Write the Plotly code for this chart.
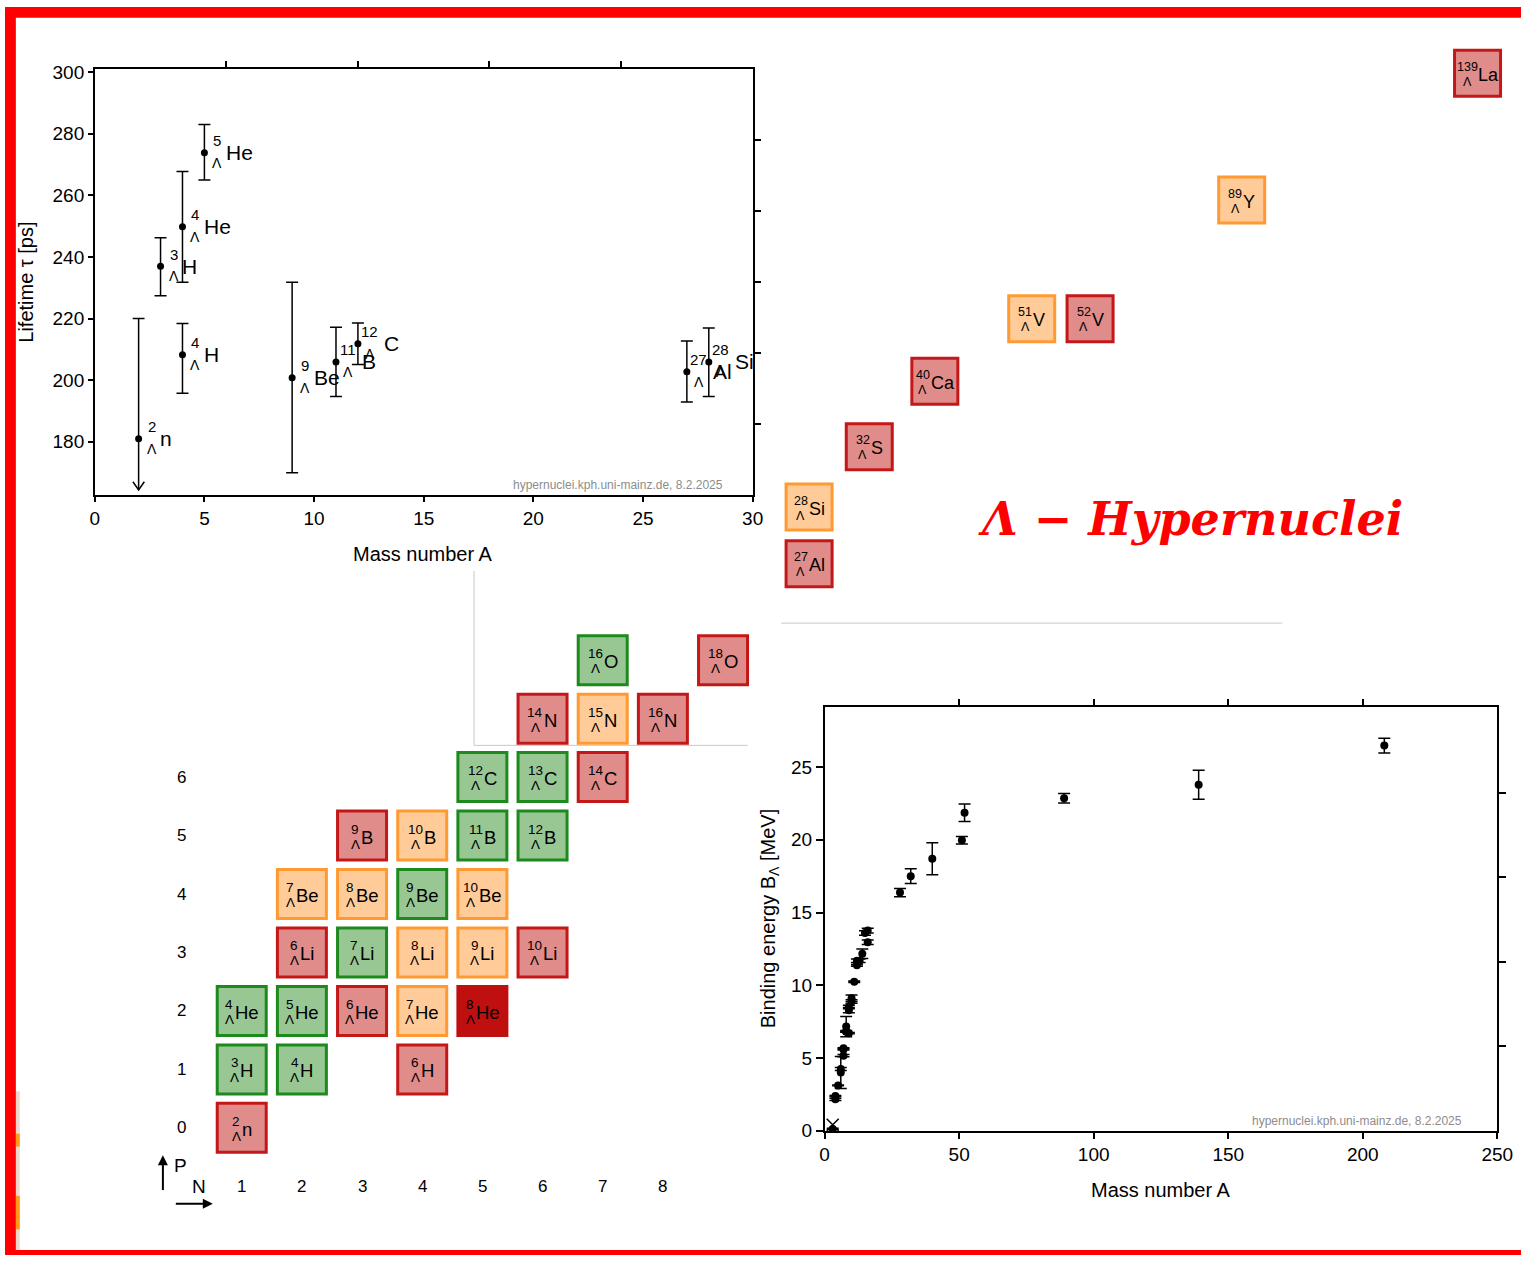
import plotly.graph_objects as go

# ---------------- data ----------------
# Lambda-hypernuclear lifetimes (ps) against mass number A
life_A = [2, 3, 4, 4, 5, 9, 11, 12, 27, 28]
life_sym = ["n", "H", "H", "He", "He", "Be", "B", "C", "Al", "Si"]
life_tau = [181.0, 237.0, 208.2, 249.8, 273.8, 200.8, 205.9, 211.8, 202.7, 205.9]
life_err_plus = [39.0, 9.2, 10.2, 17.9, 9.2, 31.0, 11.3, 6.7, 10.0, 11.0]
life_err_minus = [None, 9.6, 12.5, 18.0, 8.8, 30.9, 11.2, 6.7, 9.8, 11.2]  # None = open towards lower values

# Lambda binding energies B_Lambda (MeV) against mass number A
be_A = [3, 4, 4, 5, 6, 6, 7, 7, 7, 8, 8, 8, 9, 9, 9, 10, 10, 11, 12, 12, 13, 14, 15, 16, 16,
        28, 32, 40, 51, 52, 89, 139, 208]
be_B = [0.13, 2.16, 2.39, 3.12, 4.00, 4.25, 5.16, 5.58, 5.68, 6.80, 6.84, 7.16, 6.71, 8.29, 8.50,
        8.89, 9.11, 10.24, 11.37, 11.69, 11.69, 12.17, 13.59, 12.96, 13.76,
        16.37, 17.50, 18.70, 19.97, 21.86, 22.85, 23.78, 26.47]
be_err = [0.05, 0.08, 0.03, 0.02, 1.10, 0.10, 0.08, 0.03, 0.03, 0.03, 0.05, 0.70, 0.04, 0.18, 0.12,
          0.12, 0.22, 0.05, 0.06, 0.12, 0.12, 0.33, 0.15, 0.15, 0.16,
          0.28, 0.50, 1.10, 0.26, 0.60, 0.33, 1.00, 0.50]
be_cross_A = [3]
be_cross_B = [0.41]

# chart of Lambda hypernuclides: symbol, mass number A, proton number Z, class
light_sym = ["n", "H", "H", "H", "He", "He", "He", "He", "He",
             "Li", "Li", "Li", "Li", "Li", "Be", "Be", "Be", "Be",
             "B", "B", "B", "B", "C", "C", "C", "N", "N", "N", "O", "O"]
light_A = [2, 3, 4, 6, 4, 5, 6, 7, 8,
           6, 7, 8, 9, 10, 7, 8, 9, 10,
           9, 10, 11, 12, 12, 13, 14, 14, 15, 16, 16, 18]
light_Z = [0, 1, 1, 1, 2, 2, 2, 2, 2,
           3, 3, 3, 3, 3, 4, 4, 4, 4,
           5, 5, 5, 5, 6, 6, 6, 7, 7, 7, 8, 8]
light_class = [3, 1, 1, 3, 1, 1, 3, 2, 4,
               3, 1, 2, 2, 3, 2, 2, 1, 2,
               3, 2, 1, 1, 1, 1, 3, 3, 2, 3, 1, 3]

heavy_sym = ["Al", "Si", "S", "Ca", "V", "V", "Y", "La"]
heavy_A = [27, 28, 32, 40, 51, 52, 89, 139]
heavy_Z = [13, 14, 16, 20, 23, 23, 39, 57]
heavy_class = [3, 2, 3, 3, 2, 3, 2, 3]

row_labels = [0, 1, 2, 3, 4, 5, 6]
col_labels = [1, 2, 3, 4, 5, 6, 7, 8]

# ---------------- layout helpers ----------------
W, H = 1537, 1266
FONT = "Liberation Sans, Arial, Helvetica, sans-serif"

# heavy hypernuclei sit in a compressed inset of the N-Z chart (chart units)
heavy_cell_x = [10.43, 10.43, 11.43, 12.52, 14.13, 15.10, 17.62, 21.54]
heavy_cell_y = [9.65, 10.62, 11.65, 12.77, 13.84, 13.84, 15.87, 18.04]

CLASS_FILL = {1: "#98c794", 2: "#ffcc99", 3: "#e08c8a", 4: "#c00f0f"}
CLASS_EDGE = {1: "#1d8a1d", 2: "#ff9a33", 3: "#c41818", 4: "#c00f0f"}

CHAR_W = {"H": .722, "e": .556, "n": .556, "L": .556, "i": .222, "B": .667, "C": .722,
          "N": .722, "O": .778, "A": .667, "l": .222, "S": .667, "a": .556, "V": .667,
          "Y": .667}


def text_w(s, size):
    return sum(CHAR_W.get(c, 0.6) for c in s) * size


def py(p):
    return 1 - p / H


def px(p):
    return p / W


annotations = []


def hyper_label(x, y, xref, yref, mass, sym, num_size, lam_size, el_size,
                col_cx, el_left, num_dy, lam_dy, el_dy):
    base = dict(x=x, y=y, xref=xref, yref=yref, showarrow=False, yanchor="middle")
    annotations.append(dict(base, text=str(mass), xanchor="center", xshift=col_cx, yshift=num_dy,
                            font=dict(family=FONT, size=num_size, color="black")))
    annotations.append(dict(base, text="Λ", xanchor="center", xshift=col_cx, yshift=lam_dy,
                            font=dict(family=FONT, size=lam_size, color="black")))
    annotations.append(dict(base, text=sym, xanchor="left", xshift=el_left, yshift=el_dy,
                            font=dict(family=FONT, size=el_size, color="black")))


def box_label(x, y, mass, sym, num_size, lam_size, el_size):
    col_w = max(len(str(mass)) * 0.556 * num_size, 0.667 * lam_size)
    total = col_w + 1 + text_w(sym, el_size)
    start = -total / 2
    hyper_label(x, y, "x3", "y3", mass, sym, num_size, lam_size, el_size,
                start + col_w / 2, start + col_w - 1, 6.5, -8.5, -1.5)


fig = go.Figure()

# ---------------- lifetime panel ----------------
Y_LIFE = [162.72, 300.96]
closed = [i for i, e in enumerate(life_err_minus) if e is not None]
fig.add_trace(go.Scatter(
    x=[life_A[i] for i in closed], y=[life_tau[i] for i in closed], mode="markers",
    marker=dict(size=7, color="black"),
    error_y=dict(type="data", symmetric=False,
                 array=[life_err_plus[i] for i in closed],
                 arrayminus=[life_err_minus[i] for i in closed],
                 color="black", thickness=1.5, width=6),
    xaxis="x", yaxis="y", cliponaxis=False))

# open lower limits: bar down to the axis floor with an open arrow head
floor = Y_LIFE[0] + 1.6
cap = 0.27
lx, ly = [], []
for i, e in enumerate(life_err_minus):
    if e is None:
        a, t, up = life_A[i], life_tau[i], life_tau[i] + life_err_plus[i]
        lx += [a, a, None, a - cap, a + cap, None, a - 0.26, a, a + 0.26, None]
        ly += [up, floor, None, up, up, None, floor + 2.7, floor, floor + 2.7, None]
fig.add_trace(go.Scatter(x=lx, y=ly, mode="lines", line=dict(color="black", width=1.5),
                         xaxis="x", yaxis="y", cliponaxis=False))
fig.add_trace(go.Scatter(
    x=[life_A[i] for i, e in enumerate(life_err_minus) if e is None],
    y=[life_tau[i] for i, e in enumerate(life_err_minus) if e is None],
    mode="markers", marker=dict(size=7, color="black"), xaxis="x", yaxis="y"))

for a, s, t in zip(life_A, life_sym, life_tau):
    one = len(str(a)) == 1
    hyper_label(a, t, "x", "y", a, s, 15, 14, 21,
                13 if one else 12, 19.5 if one else 24.5, 12, -10, 0)

# frame ticks on the opposite sides
fig.add_trace(go.Scatter(x=[None], y=[None], xaxis="x2", yaxis="y2"))

# ---------------- binding energy panel ----------------
fig.add_trace(go.Scatter(
    x=be_A, y=be_B, mode="markers", marker=dict(size=8, color="black"),
    error_y=dict(type="data", array=be_err, color="black", thickness=1.5, width=6),
    xaxis="x4", yaxis="y4", cliponaxis=False))
fig.add_trace(go.Scatter(
    x=be_cross_A, y=be_cross_B, mode="markers",
    marker=dict(symbol="x-thin-open", size=12, color="black", line=dict(color="black", width=1.5)),
    xaxis="x4", yaxis="y4", cliponaxis=False))
fig.add_trace(go.Scatter(x=[None], y=[None], xaxis="x5", yaxis="y5"))

# ---------------- chart of hypernuclides ----------------
light_N = [a - 1 - z for a, z in zip(light_A, light_Z)]
for c in (1, 2, 3, 4):
    idx = [i for i, k in enumerate(light_class) if k == c]
    fig.add_trace(go.Scatter(
        x=[light_N[i] for i in idx], y=[light_Z[i] for i in idx], mode="markers",
        marker=dict(symbol="square", size=49, color=CLASS_FILL[c],
                    line=dict(color=CLASS_EDGE[c], width=3)),
        xaxis="x3", yaxis="y3", cliponaxis=False))
    hidx = [i for i, k in enumerate(heavy_class) if k == c]
    if hidx:
        fig.add_trace(go.Scatter(
            x=[heavy_cell_x[i] for i in hidx], y=[heavy_cell_y[i] for i in hidx], mode="markers",
            marker=dict(symbol="square", size=46, color=CLASS_FILL[c],
                        line=dict(color=CLASS_EDGE[c], width=3)),
            xaxis="x3", yaxis="y3", cliponaxis=False))

for n, z, a, s in zip(light_N, light_Z, light_A, light_sym):
    box_label(n, z, a, s, 13.5, 13.5, 18.5)
for x, y, a, s in zip(heavy_cell_x, heavy_cell_y, heavy_A, heavy_sym):
    box_label(x, y, a, s, 12.5, 12.5, 18)

CENTER = dict(xanchor="center", yanchor="middle", showarrow=False)
for r in row_labels:
    annotations.append(dict(CENTER, x=0, y=r, xref="x3", yref="y3", text=str(r),
                            font=dict(family=FONT, size=17, color="black")))
for c in col_labels:
    annotations.append(dict(CENTER, x=c, y=-1, xref="x3", yref="y3", text=str(c),
                            font=dict(family=FONT, size=17, color="black")))

# P / N direction arrows
annotations.append(dict(x=-0.31, y=-0.47, ax=-0.31, ay=-1.09, xref="x3", yref="y3",
                        axref="x3", ayref="y3", text="", showarrow=True, arrowhead=2,
                        arrowsize=1, arrowwidth=2, arrowcolor="black"))
annotations.append(dict(x=0.52, y=-1.30, ax=-0.12, ay=-1.30, xref="x3", yref="y3",
                        axref="x3", ayref="y3", text="", showarrow=True, arrowhead=2,
                        arrowsize=1, arrowwidth=2, arrowcolor="black"))
annotations.append(dict(CENTER, x=-0.01, y=-0.64, xref="x3", yref="y3", text="P",
                        font=dict(family=FONT, size=19, color="black")))
annotations.append(dict(CENTER, x=0.29, y=-1.0, xref="x3", yref="y3", text="N",
                        font=dict(family=FONT, size=19, color="black")))

# ---------------- titles and notes ----------------
TXT = dict(family=FONT, size=20, color="black")
annotations += [
    dict(CENTER, x=px(424), y=py(555), xref="paper", yref="paper", text="Mass number A", font=TXT),
    dict(CENTER, x=px(21), y=py(279), xref="paper", yref="paper", text="Lifetime τ [ps]",
         textangle=-90, font=TXT),
    dict(CENTER, x=px(1172), y=py(1200), xref="paper", yref="paper", text="Mass number A", font=TXT),
    dict(CENTER, x=px(775), y=py(925), xref="paper", yref="paper",
         text="Binding energy B<sub>Λ</sub> [MeV]", textangle=-90, font=TXT),
    dict(CENTER, x=px(730), y=py(485), xref="paper", yref="paper", xanchor="right",
         text="hypernuclei.kph.uni-mainz.de, 8.2.2025",
         font=dict(family=FONT, size=12, color="#8c8c8c")),
    dict(CENTER, x=px(1479), y=py(1130), xref="paper", yref="paper", xanchor="right",
         text="hypernuclei.kph.uni-mainz.de, 8.2.2025",
         font=dict(family=FONT, size=12, color="#8c8c8c")),
    dict(CENTER, x=px(1202), y=py(519), xref="paper", yref="paper",
         text="<b><i>Λ − Hypernuclei</i></b>",
         font=dict(family="DejaVu Serif, serif", size=46, color="#ff0000")),
]

# ---------------- decoration shapes ----------------
shapes = [
    dict(type="line", xref="paper", yref="paper", x0=px(475.5), x1=px(475.5),
         y0=py(572), y1=py(749), line=dict(color="#c8c8c8", width=1), layer="below"),
    dict(type="line", xref="paper", yref="paper", x0=px(475.5), x1=px(753),
         y0=py(749), y1=py(749), line=dict(color="#c8c8c8", width=1), layer="below"),
    dict(type="line", xref="paper", yref="paper", x0=px(787), x1=px(1295),
         y0=py(625), y1=py(625), line=dict(color="#c8c8c8", width=1), layer="below"),
    dict(type="rect", xref="paper", yref="paper", x0=px(11), x1=px(15), y0=py(1261), y1=py(1100),
         fillcolor="#f2d6cc", line=dict(width=0)),
    dict(type="rect", xref="paper", yref="paper", x0=px(11), x1=px(15), y0=py(1156), y1=py(1143),
         fillcolor="#ff9a1a", line=dict(width=0)),
    dict(type="rect", xref="paper", yref="paper", x0=px(11), x1=px(15), y0=py(1240), y1=py(1206),
         fillcolor="#ff9a1a", line=dict(width=0)),
    dict(type="rect", xref="paper", yref="paper", x0=0, x1=1, y0=py(11), y1=1,
         fillcolor="#ff0000", line=dict(width=0)),
    dict(type="rect", xref="paper", yref="paper", x0=0, x1=px(11), y0=0, y1=1,
         fillcolor="#ff0000", line=dict(width=0)),
    dict(type="rect", xref="paper", yref="paper", x0=0, x1=1, y0=0, y1=py(1261),
         fillcolor="#ff0000", line=dict(width=0)),
]

TICKF = dict(family=FONT, size=19, color="black")
AX = dict(showgrid=False, zeroline=False, showline=True, linecolor="black", linewidth=1.5,
          ticks="outside", tickcolor="black", tickwidth=1.5, fixedrange=True)

fig.update_layout(
    width=W, height=H, margin=dict(l=0, r=0, t=0, b=0, pad=0),
    paper_bgcolor="white", plot_bgcolor="rgba(0,0,0,0)",
    showlegend=False, hovermode=False,
    # lifetime panel
    xaxis=dict(AX, domain=[px(91), px(758)], range=[0, 30], anchor="y",
               tickvals=[0, 5, 10, 15, 20, 25, 30], ticklen=5, tickfont=TICKF),
    yaxis=dict(AX, domain=[py(495), py(63)], range=Y_LIFE, anchor="x",
               tickvals=[180, 200, 220, 240, 260, 280, 300], ticklen=5, tickfont=TICKF),
    xaxis2=dict(AX, overlaying="x", side="top", anchor="y", range=[0, 30],
                tickvals=[6, 12, 18, 24], ticklen=6, showticklabels=False),
    yaxis2=dict(AX, overlaying="y", side="right", anchor="x", range=[0, 6],
                tickvals=[1, 2, 3, 4, 5], ticklen=7, showticklabels=False),
    # chart of hypernuclides (page-wide frame in N/Z units)
    xaxis3=dict(domain=[0, 1], range=[-179 / 61, 1358 / 61], anchor="y3", visible=False,
                fixedrange=True),
    yaxis3=dict(domain=[0, 1], range=[-129 / 59.3, 1137 / 59.3], anchor="x3", visible=False,
                fixedrange=True),
    # binding energy panel
    xaxis4=dict(AX, domain=[px(831), px(1513)], range=[0, 250], anchor="y4",
                tickvals=[0, 50, 100, 150, 200, 250], ticklen=6, tickfont=TICKF),
    yaxis4=dict(AX, domain=[py(1140), py(710)], range=[0, 29.13], anchor="x4",
                tickvals=[0, 5, 10, 15, 20, 25], ticklen=7, tickfont=TICKF),
    xaxis5=dict(AX, overlaying="x4", side="top", anchor="y4", range=[0, 250],
                tickvals=[50, 100, 150, 200], ticklen=6, showticklabels=False),
    yaxis5=dict(AX, overlaying="y4", side="right", anchor="x4", range=[0, 5.02],
                tickvals=[1, 2, 3, 4], ticklen=7, showticklabels=False),
    annotations=annotations,
    shapes=shapes,
)

fig.write_html("out.html")
